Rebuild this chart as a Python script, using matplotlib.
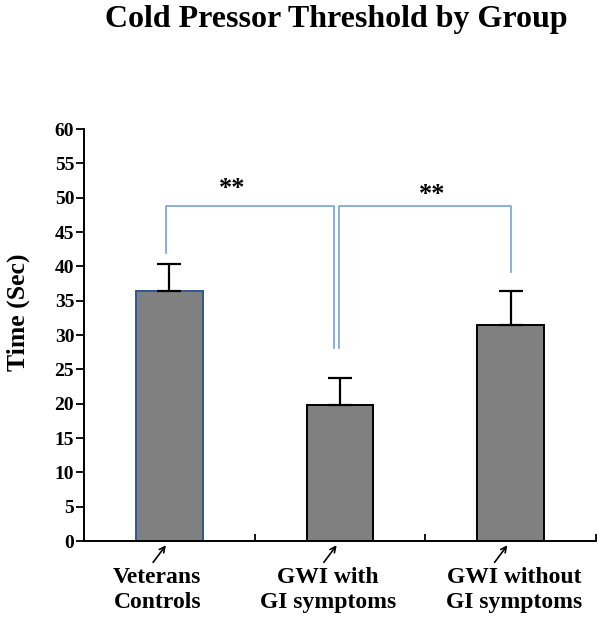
import numpy as np
import matplotlib
matplotlib.use('Agg')
import matplotlib.pyplot as plt

groups = ['Veterans\nControls', 'GWI with\nGI symptoms', 'GWI without\nGI symptoms']
means = [36.5, 19.8, 31.5]
errors = [3.8, 3.9, 5.0]
edge_colors = ['#2f5597', 'black', 'black']
label_x = [-0.07, 0.93, 2.02]

# bracket geometry (data units)
bracket_top = 48.8
bracket_left = [-0.02, 41.9]
bracket_mid = [0.98, 28.1]
bracket_right = [2.0, 39.2]
sig_labels = ['**', '**']
sig_pos = [(0.367, 51.3), (1.54, 50.5)]

plt.rcParams['font.family'] = ['Liberation Serif', 'DejaVu Serif']
plt.rcParams['font.weight'] = 'bold'

fig = plt.figure(figsize=(6.04, 6.27), dpi=100)
ax = fig.add_axes([0.139, 0.137, 0.848, 0.657])

x = np.arange(len(groups))
ax.bar(x, means, width=0.39, color='#808080', edgecolor=edge_colors, linewidth=1.4, zorder=2)
ax.errorbar(x, means, yerr=[np.zeros(len(errors)), errors], fmt='none', ecolor='black',
            elinewidth=1.6, capsize=8.3, capthick=1.6, zorder=3)

ax.set_xlim(-0.5, 2.5)
ax.set_ylim(0, 60)
ax.set_yticks(np.arange(0, 61, 5))
ax.set_xticks([0.5, 1.5, 2.5])
ax.set_xticklabels([])
ax.tick_params(axis='x', direction='in', length=5, width=1.3)
ax.tick_params(axis='y', direction='out', length=6, width=1.3, labelsize=14, pad=1)
for lab in ax.get_yticklabels():
    lab.set_fontweight('bold')
ax.spines['top'].set_visible(False)
ax.spines['right'].set_visible(False)
ax.spines['left'].set_linewidth(1.4)
ax.spines['bottom'].set_linewidth(1.4)
ax.set_ylabel('Time (Sec)', fontsize=18.5, fontweight='bold', va='center')
ax.yaxis.set_label_coords(-0.128, 0.556)

# significance brackets
bc = '#7aa0d4'
gap = 0.015
ax.plot([bracket_left[0], bracket_left[0], bracket_mid[0] - gap, bracket_mid[0] - gap],
        [bracket_left[1], bracket_top, bracket_top, bracket_mid[1]],
        color=bc, lw=1.2, clip_on=False)
ax.plot([bracket_mid[0] + gap, bracket_mid[0] + gap, bracket_right[0], bracket_right[0]],
        [bracket_mid[1], bracket_top, bracket_top, bracket_right[1]],
        color=bc, lw=1.2, clip_on=False)
for (sx, sy), s in zip(sig_pos, sig_labels):
    ax.text(sx, sy, s, ha='center', va='center', fontsize=19, fontweight='bold')

# arrows and group labels below the axis
for xi, lx, label in zip(x, label_x, groups):
    ax.annotate('', xy=(xi - 0.02, -0.6), xytext=(xi - 0.095, -3.1),
                arrowprops=dict(arrowstyle='->', lw=1.2, color='black', mutation_scale=10,
                                shrinkA=0, shrinkB=0),
                annotation_clip=False)
    ax.text(lx, -3.7, label, ha='center', va='top', fontsize=17,
            fontweight='bold', linespacing=1.25, clip_on=False)

fig.text(0.556, 1 - 27 / 627, 'Cold Pressor Threshold by Group', ha='center', va='baseline',
         fontsize=23, fontweight='bold')

fig.savefig('out.png', dpi=100)
